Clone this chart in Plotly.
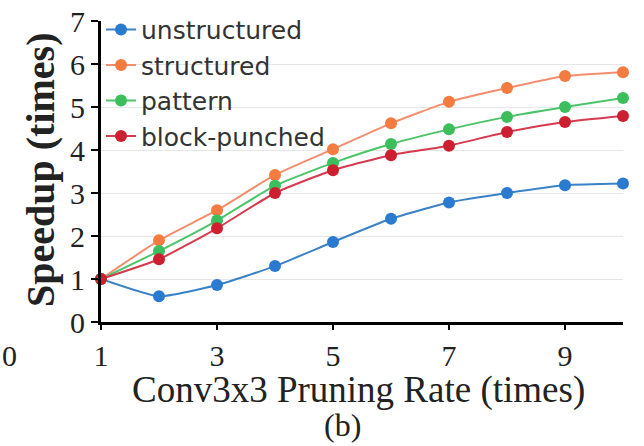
import plotly.graph_objects as go

rates = [1, 2, 3, 4, 5, 6, 7, 8, 9, 10]
unstructured = [1.0, 0.6, 0.86, 1.3, 1.86, 2.4, 2.78, 3.0, 3.18, 3.22]
structured = [1.0, 1.9, 2.6, 3.42, 4.02, 4.62, 5.12, 5.44, 5.72, 5.81]
pattern = [1.0, 1.65, 2.36, 3.17, 3.7, 4.14, 4.48, 4.77, 5.0, 5.21]
block_punched = [1.0, 1.46, 2.18, 3.0, 3.53, 3.88, 4.1, 4.42, 4.65, 4.79]

x_ticks = [1, 3, 5, 7, 9]
y_ticks = [0, 1, 2, 3, 4, 5, 6, 7]

series = [
    ("unstructured", unstructured, "#2A7AD0", "#3A82C8"),
    ("structured", structured, "#F57C40", "#F58E6E"),
    ("pattern", pattern, "#3DBE5C", "#4CC46A"),
    ("block-punched", block_punched, "#CC2030", "#D63A4E"),
]

fig = go.Figure()
for name, vals, mcol, lcol in series:
    fig.add_trace(go.Scatter(
        x=rates, y=vals, name=name, mode="lines+markers",
        line=dict(color=lcol, width=2, shape="spline", smoothing=0.5),
        marker=dict(color=mcol, size=12, symbol="circle"),
        cliponaxis=False,
    ))

serif = "Liberation Serif, Times New Roman, serif"

fig.update_layout(
    width=644, height=446,
    margin=dict(l=101, r=21, t=21, b=124, autoexpand=False),
    paper_bgcolor="white", plot_bgcolor="white",
    showlegend=True,
    legend=dict(
        x=0.0, y=1.047, xanchor="left", yanchor="top",
        bgcolor="rgba(0,0,0,0)",
        font=dict(family="DejaVu Sans, sans-serif", size=25, color="#333333"),
        tracegroupgap=0, itemwidth=30,
    ),
    xaxis=dict(
        range=[1, 10], tickmode="array", tickvals=x_ticks,
        ticktext=[str(t) for t in x_ticks],
        showline=True, linecolor="black", linewidth=3,
        ticks="outside", ticklen=5, tickwidth=2, tickcolor="black",
        showgrid=False, zeroline=False, ticklabeloverflow="allow",
        tickfont=dict(family=serif, size=30, color="#222222"),
    ),
    yaxis=dict(
        range=[0, 7], tickmode="array", tickvals=y_ticks,
        ticktext=[str(t) for t in y_ticks],
        showline=True, linecolor="black", linewidth=3,
        ticks="outside", ticklen=7, tickwidth=2, tickcolor="black",
        showgrid=True, gridcolor="#e6e6e6", gridwidth=1, zeroline=False,
        ticklabeloverflow="allow",
        tickfont=dict(family=serif, size=30, color="#222222"),
    ),
    annotations=[
        dict(text="<b>Speedup (times)</b>", xref="paper", yref="paper",
             x=-0.115, y=0.505, xanchor="center", yanchor="middle", textangle=-90,
             showarrow=False, font=dict(family=serif, size=40, color="#222222")),
        dict(text="Conv3x3 Pruning Rate (times)", xref="paper", yref="paper",
             x=0.494, y=-0.226, xanchor="center", yanchor="middle",
             showarrow=False, font=dict(family=serif, size=37, color="#222222")),
        dict(text="(b)", xref="paper", yref="paper",
             x=0.462, y=-0.342, xanchor="center", yanchor="middle",
             showarrow=False, font=dict(family=serif, size=32, color="#222222")),
        dict(text="0", xref="paper", yref="paper",
             x=-0.175, y=-0.11, xanchor="center", yanchor="middle",
             showarrow=False, font=dict(family=serif, size=30, color="#222222")),
    ],
)

fig.write_html("out.html", config={"displayModeBar": False},
               post_script="document.body.style.margin='0';")
